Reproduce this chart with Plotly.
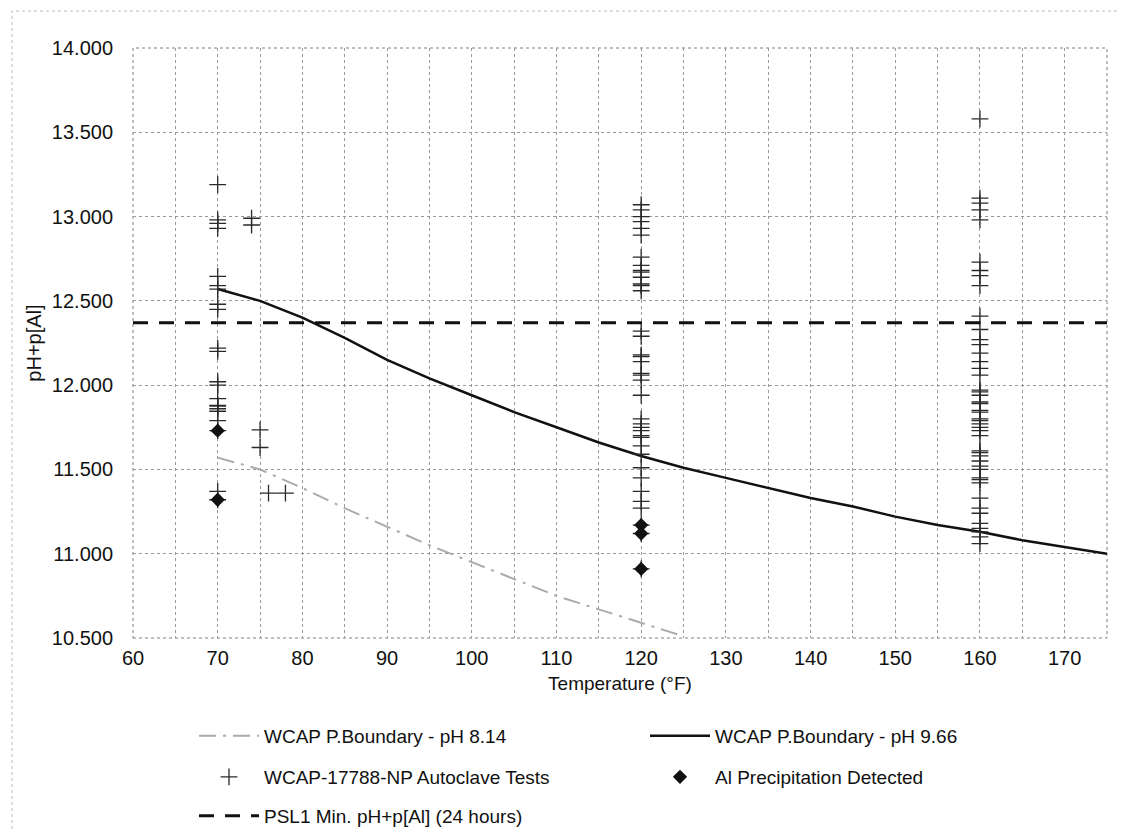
import plotly.graph_objects as go

# ---- data ----
temp_line = [70, 75, 80, 85, 90, 95, 100, 105, 110, 115, 120, 125, 130, 135, 140, 145, 150, 155, 160, 165, 170, 175]
ph966 = [12.57, 12.50, 12.40, 12.28, 12.15, 12.04, 11.94, 11.84, 11.75, 11.66, 11.58, 11.51, 11.45, 11.39, 11.33, 11.28, 11.22, 11.17, 11.13, 11.08, 11.04, 11.00]

temp_814 = [70, 75, 80, 85, 90, 95, 100, 105, 110, 115, 120, 125]
ph814 = [11.57, 11.50, 11.39, 11.27, 11.16, 11.05, 10.95, 10.85, 10.75, 10.67, 10.59, 10.51]

psl_x = [60, 175]
psl_y = [12.37, 12.37]

t70 = [13.19, 12.98, 12.96, 12.93, 12.645, 12.59, 12.57, 12.48, 12.45, 12.22, 12.20, 12.02, 12.00,
       11.92, 11.88, 11.875, 11.86, 11.845, 11.79, 11.73, 11.37, 11.32]
t74 = [12.99, 12.95]
t75 = [11.735, 11.63]
t76 = [11.36]
t78 = [11.36]
t120 = [13.07, 13.04, 13.00, 12.97, 12.93, 12.89, 12.76, 12.71, 12.68, 12.67, 12.64, 12.60, 12.59, 12.56,
        12.32, 12.29, 12.18, 12.17, 12.14, 12.07, 12.06, 12.03, 11.94, 11.80, 11.77, 11.75, 11.73, 11.70,
        11.69, 11.64, 11.59, 11.51, 11.45, 11.37, 11.31, 11.27, 11.17, 11.12, 10.91]
t160 = [13.58, 13.11, 13.08, 13.04, 12.98, 12.73, 12.68, 12.65, 12.59, 12.41, 12.33, 12.27, 12.24, 12.19,
        12.14, 12.10, 12.06, 11.97, 11.96, 11.94, 11.90, 11.89, 11.85, 11.84, 11.80, 11.79, 11.77, 11.75,
        11.73, 11.70, 11.61, 11.60, 11.58, 11.55, 11.52, 11.50, 11.45, 11.44, 11.42, 11.33, 11.27, 11.24,
        11.18, 11.15, 11.13, 11.10, 11.06]

precip_x = [70, 70, 120, 120, 120]
precip_y = [11.73, 11.32, 11.17, 11.12, 10.91]

y_ticks = [10.5, 11.0, 11.5, 12.0, 12.5, 13.0, 13.5, 14.0]
x_ticks = [60, 70, 80, 90, 100, 110, 120, 130, 140, 150, 160, 170]

# ---- build ----
auto_x = [70] * len(t70) + [74] * len(t74) + [75] * len(t75) + [76] * len(t76) + [78] * len(t78) \
    + [120] * len(t120) + [160] * len(t160)
auto_y = t70 + t74 + t75 + t76 + t78 + t120 + t160

FONT = "Liberation Sans, Arial, sans-serif"
TXT = "#111111"
fig = go.Figure()

fig.add_trace(go.Scatter(x=temp_814, y=ph814, mode="lines", name="WCAP P.Boundary - pH 8.14",
                         line=dict(color="#ababab", width=2, dash="17px,7px,3px,7px"), legend="legend"))
fig.add_trace(go.Scatter(x=temp_line, y=ph966, mode="lines", name="WCAP P.Boundary - pH 9.66",
                         line=dict(color="#111111", width=2.5), legend="legend"))
fig.add_trace(go.Scatter(x=auto_x, y=auto_y, mode="markers", name="WCAP-17788-NP Autoclave Tests",
                         marker=dict(symbol="cross-thin", size=12, line=dict(color="#2a2a2a", width=1.3)),
                         legend="legend2"))
fig.add_trace(go.Scatter(x=precip_x, y=precip_y, mode="markers", name="Al Precipitation Detected",
                         marker=dict(symbol="diamond", size=11, color="#111111"), legend="legend2"))
fig.add_trace(go.Scatter(x=psl_x, y=psl_y, mode="lines", name="PSL1 Min. pH+p[Al] (24 hours)",
                         line=dict(color="#111111", width=3, dash="15px,11px"), legend="legend3"))

L, R, T, B = 125, 26, 40, 202
W, H = 1125, 832
pw, ph = W - L - R, H - T - B

leg_common = dict(orientation="h", xanchor="left", yanchor="middle", xref="container", yref="container",
                  x=186 / W, font=dict(family=FONT, size=19, color=TXT), bgcolor="rgba(0,0,0,0)",
                  entrywidth=376, entrywidthmode="pixels", itemwidth=60, traceorder="normal")

fig.update_layout(
    width=W, height=H,
    margin=dict(l=L, r=R, t=T, b=B),
    paper_bgcolor="white", plot_bgcolor="white",
    font=dict(family=FONT, size=19, color=TXT),
    xaxis=dict(range=[60, 175], tickvals=x_ticks, ticktext=[str(v) for v in x_ticks],
               showgrid=True, gridcolor="#9a9a9a", griddash="dot", gridwidth=1,
               minor=dict(dtick=5, tick0=60, showgrid=True, gridcolor="#9a9a9a", griddash="dot", gridwidth=1),
               showline=False, zeroline=False,
               ticks="outside", ticklen=2, tickcolor="rgba(0,0,0,0)",
               title=dict(text="Temperature (°F)", font=dict(size=19), standoff=8),
               tickfont=dict(size=20)),
    yaxis=dict(range=[10.5, 14.0], tickvals=y_ticks, tickformat=".3f",
               showgrid=True, gridcolor="#9a9a9a", griddash="dot", gridwidth=1,
               showline=False, zeroline=False,
               ticks="outside", ticklen=15, tickcolor="rgba(0,0,0,0)",
               title=dict(text="pH+p[Al]", font=dict(size=20), standoff=4),
               tickfont=dict(size=20)),
    showlegend=True,
    legend=dict(**leg_common, y=1 - 728 / H),
    legend2=dict(**leg_common, y=1 - 769 / H),
    legend3=dict(**leg_common, y=1 - 808 / H),
)

# dotted frame of the plot area
fig.add_shape(type="rect", xref="paper", yref="paper", x0=0, x1=1, y0=0, y1=1,
              line=dict(color="#808080", width=1, dash="dot"), layer="below")
# outer dotted frame of the chart image
fig.add_shape(type="rect", xref="paper", yref="paper",
              x0=(4 - L) / pw, x1=(W - 3 - L) / pw, y0=(T + ph - (H - 4)) / ph, y1=(T + ph - 3) / ph,
              line=dict(color="#bbbbbb", width=1, dash="dot"), layer="below")

fig.write_html("out.html")
